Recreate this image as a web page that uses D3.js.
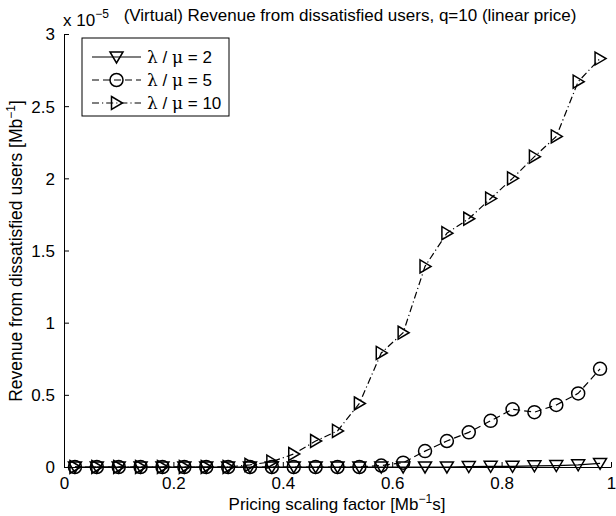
<!DOCTYPE html>
<html>
<head>
<meta charset="utf-8">
<script src="https://cdn.jsdelivr.net/npm/d3@7"></script>
<style>
  html, body { margin: 0; padding: 0; background: #fff; }
  svg { display: block; }
  .sans { font-family: "Liberation Sans", Arial, sans-serif; fill: #000; }
  tspan.greek { font-family: "DejaVu Serif", "Liberation Serif", serif; }
</style>
</head>
<body>
<svg id="chart" width="616" height="516"></svg>
<script>
// Pricing scaling factor samples
const pricing = [0.02, 0.06, 0.10, 0.14, 0.18, 0.22, 0.26, 0.30, 0.34, 0.38,
                 0.42, 0.46, 0.50, 0.54, 0.58, 0.62, 0.66, 0.70, 0.74, 0.78,
                 0.82, 0.86, 0.90, 0.94, 0.98];

// Revenue from dissatisfied users, in units of 1e-5 Mb^-1
const revLoad2 = [0, 0, 0, 0, 0, 0, 0, 0, 0, 0,
                  0, 0, 0, 0, 0, 0, 0, 0, 0.003, 0.005,
                  0.005, 0.008, 0.01, 0.015, 0.025];
const revLoad5 = [0, 0, 0, 0, 0, 0, 0, 0, 0, 0,
                  0, 0, 0, 0, 0.01, 0.03, 0.11, 0.18, 0.24, 0.32,
                  0.40, 0.38, 0.43, 0.51, 0.68];
const revLoad10 = [0, 0, 0, 0, 0, 0, 0, 0, 0.015, 0.037,
                   0.09, 0.18, 0.25, 0.44, 0.79, 0.93, 1.39, 1.62, 1.72, 1.86,
                   2.00, 2.15, 2.29, 2.67, 2.83];

const seriesNames = ["2", "5", "10"];
const xTicks = [0, 0.2, 0.4, 0.6, 0.8, 1];
const yTicks = [0, 0.5, 1, 1.5, 2, 2.5, 3];

const svg = d3.select("#chart");
const FS = 17;

const x = d3.scaleLinear().domain([0, 1]).range([64, 611]);
const y = d3.scaleLinear().domain([0, 3]).range([467, 34]);

// Marker shapes (unfilled, centred on the point)
const triDown = {
  draw(ctx) {
    const w = 6.5;
    ctx.moveTo(-w, -5);
    ctx.lineTo(w, -5);
    ctx.lineTo(0, 6);
    ctx.closePath();
  }
};
const triRight = {
  draw(ctx) {
    const h = 6.5;
    ctx.moveTo(-5, -h);
    ctx.lineTo(6, 0);
    ctx.lineTo(-5, h);
    ctx.closePath();
  }
};
const circ = {
  draw(ctx) {
    const r = 6.5;
    ctx.moveTo(r, 0);
    ctx.arc(0, 0, r, 0, 2 * Math.PI);
  }
};

const series = [
  { name: seriesNames[0], values: revLoad2, dash: null, shape: triDown },
  { name: seriesNames[1], values: revLoad5, dash: "7,4", shape: circ },
  { name: seriesNames[2], values: revLoad10, dash: "7,3,1.2,3", shape: triRight }
];

// Axes: left and bottom only, ticks pointing inward
const xAxis = d3.axisBottom(x).tickValues(xTicks).tickSize(-5).tickSizeOuter(0)
  .tickPadding(10).tickFormat(d3.format("~g"));
const yAxis = d3.axisLeft(y).tickValues(yTicks).tickSize(-5).tickSizeOuter(0)
  .tickPadding(9).tickFormat(d3.format("~g"));

const gx = svg.append("g").attr("transform", `translate(0,${y(0)})`).call(xAxis);
const gy = svg.append("g").attr("transform", `translate(${x(0)},0)`).call(yAxis);
[gx, gy].forEach(g => {
  g.selectAll("path.domain").attr("stroke", "#000").attr("stroke-width", 1);
  g.selectAll(".tick line").attr("stroke", "#000").attr("stroke-width", 1);
  g.selectAll(".tick text").attr("class", "sans").attr("font-size", FS).attr("fill", "#000");
});
gx.selectAll(".tick text").attr("dy", "0.71em");
gy.selectAll(".tick text").attr("dy", "0.35em");

// Series lines and markers
const line = d3.line().x((d, i) => x(pricing[i])).y(d => y(d));
const plot = svg.append("g");
series.forEach(s => {
  plot.append("path")
    .attr("d", line(s.values))
    .attr("fill", "none")
    .attr("stroke", "#000")
    .attr("stroke-width", 1.2)
    .attr("stroke-dasharray", s.dash);
  plot.append("g").selectAll("path")
    .data(s.values)
    .join("path")
    .attr("transform", (d, i) => `translate(${x(pricing[i])},${y(d)})`)
    .attr("d", d3.symbol(s.shape))
    .attr("fill", "none")
    .attr("stroke", "#000")
    .attr("stroke-width", 1.5);
});

// Exponent label above the y axis
const expo = svg.append("text").attr("class", "sans").attr("x", 63).attr("y", 26).attr("font-size", FS);
expo.append("tspan").text("x 10");
expo.append("tspan").attr("font-size", 12).attr("dy", -8).text("\u22125");

// Title
svg.append("text").attr("class", "sans")
  .attr("x", 350).attr("y", 21)
  .attr("text-anchor", "middle")
  .attr("font-size", FS)
  .text("(Virtual) Revenue from dissatisfied users, q=10 (linear price)");

// X axis label
const xl = svg.append("text").attr("class", "sans")
  .attr("x", 337).attr("y", 510)
  .attr("text-anchor", "middle")
  .attr("font-size", FS);
xl.append("tspan").text("Pricing scaling factor [Mb");
xl.append("tspan").attr("font-size", 12).attr("dy", -7).text("\u22121");
xl.append("tspan").attr("dy", 7).text("s]");

// Y axis label
const yl = svg.append("text").attr("class", "sans")
  .attr("transform", "translate(22,251) rotate(-90)")
  .attr("text-anchor", "middle")
  .attr("font-size", 17.5);
yl.append("tspan").text("Revenue from dissatisfied users [Mb");
yl.append("tspan").attr("font-size", 12).attr("dy", -7).text("\u22121");
yl.append("tspan").attr("dy", 7).text("]");

// Legend
const leg = svg.append("g");
leg.append("rect")
  .attr("x", 82).attr("y", 38).attr("width", 147).attr("height", 78)
  .attr("fill", "#fff").attr("stroke", "#000").attr("stroke-width", 1);
series.forEach((s, i) => {
  const cy = 57 + i * 23;
  leg.append("line")
    .attr("x1", 92).attr("x2", 141).attr("y1", cy).attr("y2", cy)
    .attr("stroke", "#000").attr("stroke-width", 1.2)
    .attr("stroke-dasharray", s.dash);
  leg.append("path")
    .attr("transform", `translate(116.5,${cy})`)
    .attr("d", d3.symbol(s.shape))
    .attr("fill", "none").attr("stroke", "#000").attr("stroke-width", 1.5);
  const t = leg.append("text").attr("class", "sans").attr("x", 147).attr("y", cy + 6).attr("font-size", FS);
  t.append("tspan").attr("class", "greek").attr("font-size", 17).text("\u03bb");
  t.append("tspan").text(" / ");
  t.append("tspan").attr("class", "greek").attr("font-size", 17).text("\u03bc");
  t.append("tspan").text(" = " + s.name);
});
</script>
</body>
</html>
